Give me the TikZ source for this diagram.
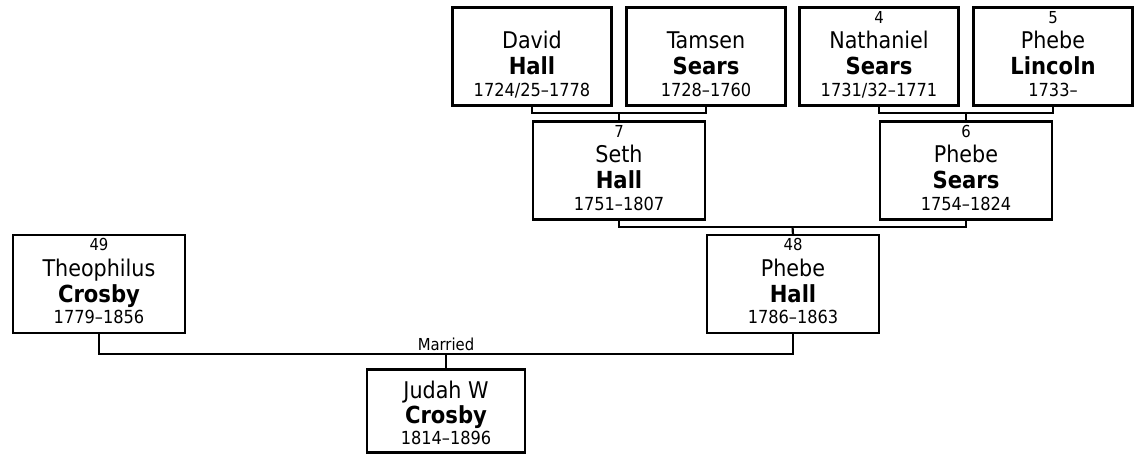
\documentclass[tikz,border=0pt]{standalone}
\usepackage{fontspec}
\setmainfont{DejaVu Sans Condensed}
\begin{document}
\begin{tikzpicture}[x=1pt,y=-1pt,
  pbox/.style={draw, line width=2.2pt, minimum width=#1, minimum height=98pt, inner sep=0pt, outer sep=0pt},
  jbox/.style={draw, line width=2.2pt, minimum width=158pt, minimum height=83pt, inner sep=0pt, outer sep=0pt},
  conn/.style={line width=2.2pt},
  numtxt/.style={anchor=base, inner sep=0pt, font=\fontsize{16.5}{19}\selectfont},
  nametxt/.style={anchor=base, inner sep=0pt, font=\fontsize{23}{27}\selectfont},
  surtxt/.style={anchor=base, inner sep=0pt, font=\fontsize{23.5}{27}\selectfont\bfseries},
  datetxt/.style={anchor=base, inner sep=0pt, font=\fontsize{18}{21}\selectfont},
  martxt/.style={anchor=base, inner sep=0pt, font=\fontsize{16.5}{19}\selectfont}]
\useasboundingbox (0,0) rectangle (1137,455);

% boxes
\node[pbox=159pt] (david) at (532,56.5) {};
\node[pbox=159pt] (tamsen) at (706,56.5) {};
\node[pbox=159pt] (nath) at (879,56.5) {};
\node[pbox=159pt] (lincoln) at (1053,56.5) {};
\node[pbox=172pt] (seth) at (619,170.5) {};
\node[pbox=172pt] (psears) at (966,170.5) {};
\node[pbox=172pt] (phall) at (793,284) {};
\node[pbox=172pt] (theo) at (99,284) {};
\node[jbox] (judah) at (446,411) {};

% texts
\newcommand\ptext[5]{%
  \node[numtxt] (#1-num) at ([yshift=-15.7pt]#1.north) {#2};
  \node[nametxt] (#1-first) at ([yshift=-41.3pt]#1.north) {#3};
  \node[surtxt] (#1-last) at ([yshift=-67pt]#1.north) {#4};
  \node[datetxt] (#1-dates) at ([yshift=-88.7pt]#1.north) {#5};}
\ptext{david}{}{David}{Hall}{1724/25–1778}
\ptext{tamsen}{}{Tamsen}{Sears}{1728–1760}
\ptext{nath}{4}{Nathaniel}{Sears}{1731/32–1771}
\ptext{lincoln}{5}{Phebe}{Lincoln}{1733–}
\ptext{seth}{7}{Seth}{Hall}{1751–1807}
\ptext{psears}{6}{Phebe}{Sears}{1754–1824}
\ptext{phall}{48}{Phebe}{Hall}{1786–1863}
\ptext{theo}{49}{Theophilus}{Crosby}{1779–1856}
\node[nametxt] (judah-first) at ([yshift=-28.7pt]judah.north) {Judah W};
\node[surtxt] (judah-last) at ([yshift=-54.3pt]judah.north) {Crosby};
\node[datetxt] (judah-dates) at ([yshift=-75.3pt]judah.north) {1814–1896};

% connectors
\coordinate (j1) at (619,113.3);
\coordinate (j2) at (966,113.3);
\coordinate (j3) at (792.5,226.7);
\coordinate (j4) at (446,354.3);
\draw[conn] (david.south) |- (j1) -| (tamsen.south);
\draw[conn] (j1) -- (seth.north);
\draw[conn] (nath.south) |- (j2) -| (lincoln.south);
\draw[conn] (j2) -- (psears.north);
\draw[conn] (seth.south) |- (j3) -| (psears.south);
\draw[conn] (j3) -- (phall.north);
\draw[conn] (theo.south) |- (j4) -| (phall.south);
\draw[conn] (j4) -- (judah.north);
\node[martxt] (married) at (446,350) {Married};
\end{tikzpicture}
\end{document}
